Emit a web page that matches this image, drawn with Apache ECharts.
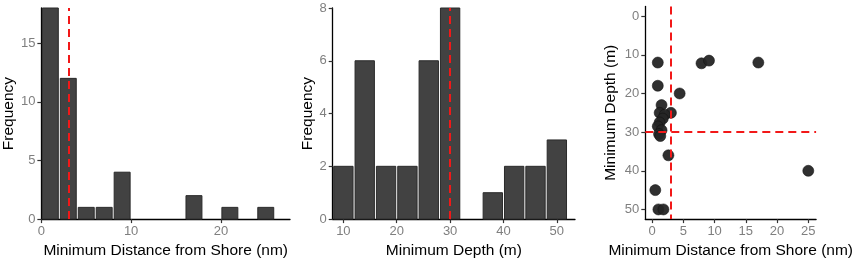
<!DOCTYPE html>
<html>
<head>
<meta charset="utf-8">
<script src="https://cdn.jsdelivr.net/npm/echarts@6/dist/echarts.min.js"></script>
<style>
  html, body { margin: 0; padding: 0; background: #fff; }
  #main { width: 856px; height: 264px; }
</style>
</head>
<body>
<div id="main"></div>
<script>
// histogram of min distance from shore (nm), bins of 2
var distBinStart = [0, 2, 4, 6, 8, 16, 20, 24];
var distCounts = [18, 12, 1, 1, 4, 2, 1, 1];
var distBinWidth = 2;

// histogram of min depth (m), bins of 4
var depthBinStart = [8, 12, 16, 20, 24, 28, 36, 40, 44, 48];
var depthCounts = [2, 6, 2, 2, 6, 8, 1, 2, 2, 3];
var depthBinWidth = 4;

// scatter: distance (nm) vs depth (m)
var scatterDist = [0.9, 0.9, 7.9, 9.1, 17, 4.4, 1.5, 1.2, 3.0, 2.0, 1.7, 1.2, 0.9, 1.5, 1.1, 1.3, 2.6, 25, 0.5, 1.0, 1.8];
var scatterDepth = [12, 18, 12.2, 11.5, 12, 20, 23, 25, 25, 25.5, 26.5, 27.5, 28.5, 29.5, 30.5, 31, 36, 40, 45, 50, 50];

// reference lines
var distCut = 3;
var depthCut = 30;

// tick labels
var distHistTicks = [0, 10, 20];
var distHistFreqTicks = [0, 5, 10, 15];
var depthHistTicks = [10, 20, 30, 40, 50];
var depthHistFreqTicks = [0, 2, 4, 6, 8];
var scatterXTicks = [0, 5, 10, 15, 20, 25];
var scatterYTicks = [0, 10, 20, 30, 40, 50];

var FONT = '"Liberation Sans", Arial, sans-serif';

function histData(starts, counts, w) {
    return starts.map(function (s, i) { return [s, s + w, counts[i]]; });
}

function renderBar(params, api) {
    var p0 = api.coord([api.value(0), api.value(2)]);
    var p1 = api.coord([api.value(1), 0]);
    return {
        type: 'rect',
        shape: { x: p0[0] + 1, y: p0[1], width: p1[0] - p0[0] - 2, height: p1[1] - p0[1] },
        style: { fill: '#424242', stroke: '#2a2a2a', lineWidth: 1 }
    };
}

function axis(idx, opt) {
    return {
        gridIndex: idx,
        type: 'value',
        name: opt.name,
        nameLocation: 'middle',
        nameGap: opt.nameGap,
        nameTextStyle: { color: '#000', fontSize: 15.5, fontFamily: FONT },
        min: opt.min,
        max: opt.max,
        inverse: !!opt.inverse,
        splitLine: { show: false },
        axisLine: { show: true, onZero: false, lineStyle: { color: '#000', width: 1.3 } },
        axisTick: { show: true, length: 4, customValues: opt.ticks, lineStyle: { color: '#333', width: 1.2 } },
        axisLabel: { customValues: opt.ticks, color: '#7f7f7f', fontSize: 13, fontFamily: FONT, margin: 6 }
    };
}

var cutLine = { color: '#f21818', type: [8, 5], width: 2 };

var option = {
    animation: false,
    backgroundColor: '#fff',
    grid: [
        { left: 40.5, top: 8, width: 249.5, height: 216 },
        { left: 332.7, top: 8, width: 242.3, height: 216 },
        { left: 645.3, top: 6.5, width: 175.5, height: 217.5 }
    ],
    xAxis: [
        axis(0, { name: 'Minimum Distance from Shore (nm)', nameGap: 22, min: 0, max: 27.7, ticks: distHistTicks }),
        axis(1, { name: 'Minimum Depth (m)', nameGap: 22, min: 8, max: 53.4, ticks: depthHistTicks }),
        axis(2, { name: 'Minimum Distance from Shore (nm)', nameGap: 22, min: -1.1, max: 26.25, ticks: scatterXTicks })
    ],
    yAxis: [
        axis(0, { name: 'Frequency', nameGap: 22, min: 0, max: 18, ticks: distHistFreqTicks }),
        axis(1, { name: 'Frequency', nameGap: 17, min: 0, max: 8, ticks: depthHistFreqTicks }),
        axis(2, { name: 'Minimum Depth (m)', nameGap: 27, min: -2.5, max: 52.5, inverse: true, ticks: scatterYTicks })
    ],
    series: [
        {
            type: 'custom',
            xAxisIndex: 0, yAxisIndex: 0,
            renderItem: renderBar,
            encode: { x: [0, 1], y: 2 },
            data: histData(distBinStart, distCounts, distBinWidth),
            markLine: {
                silent: true, symbol: 'none', label: { show: false },
                lineStyle: cutLine,
                data: [{ xAxis: distCut }]
            }
        },
        {
            type: 'custom',
            xAxisIndex: 1, yAxisIndex: 1,
            renderItem: renderBar,
            encode: { x: [0, 1], y: 2 },
            data: histData(depthBinStart, depthCounts, depthBinWidth),
            markLine: {
                silent: true, symbol: 'none', label: { show: false },
                lineStyle: cutLine,
                data: [{ xAxis: depthCut }]
            }
        },
        {
            type: 'scatter',
            xAxisIndex: 2, yAxisIndex: 2,
            symbolSize: 11,
            itemStyle: { color: '#252525', borderColor: '#111', borderWidth: 0.6, opacity: 0.95 },
            data: scatterDist.map(function (d, i) { return [d, scatterDepth[i]]; }),
            markLine: {
                silent: true, symbol: 'none', label: { show: false },
                lineStyle: cutLine,
                data: [{ xAxis: distCut }, { yAxis: depthCut }]
            }
        }
    ]
};

var chart = echarts.init(document.getElementById('main'));
chart.setOption(option);
</script>
</body>
</html>
